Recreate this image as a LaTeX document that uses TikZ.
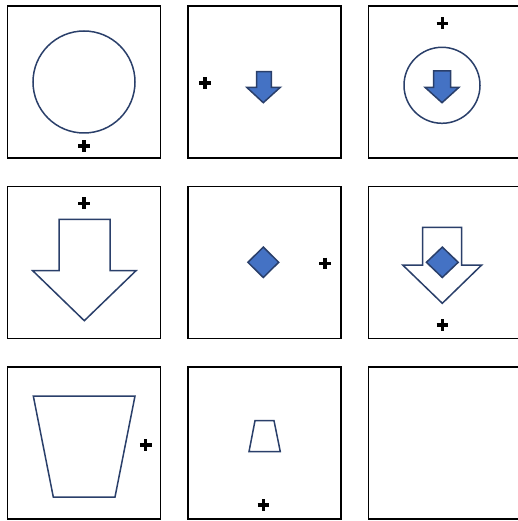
\documentclass[tikz,border=0pt]{standalone}
\usetikzlibrary{shapes.geometric}
\definecolor{shapeblue}{HTML}{4472C4}
\definecolor{shapeline}{HTML}{2A3F6A}
\tikzset{panel/.style = {draw = black, line width = 1.7pt}}
\tikzset{outline/.style = {draw = shapeline, line width = 1.5pt, line join = miter}}
\tikzset{solidshape/.style = {outline, fill = shapeblue}}
\tikzset{ring/.style = {shape = circle, outline, inner sep = 0pt}}
\tikzset{gem/.style = {shape = diamond, solidshape, inner sep = 0pt}}
\tikzset{plusmark/.pic = {\draw[line width = 3.3pt] (-5.8,0) -- (5.8,0) (0,-5.8) -- (0,5.8);}}

\begin{document}
\begin{tikzpicture}[x = 1pt, y = -1pt]
	\useasboundingbox (0,0) rectangle (517,521);
	\fill[white] (0,0) rectangle (517,521);

	% panels
	\foreach \px in {7.5, 188, 368.5}
		\foreach \py in {6, 186.5, 367}
			\draw[panel] (\px,\py) rectangle ++(153,152);

	% row 1
	\node[ring, minimum size = 102pt] (c1) at (84,82) {};
	\pic at (84,146) {plusmark};

	\draw[solidshape] (256.7,71.7) -- (271.3,71.7) -- (271.3,87.3) -- (280.3,87.3)
		-- (263.3,102.7) -- (246.7,87.3) -- (256.7,87.3) -- cycle;
	\pic at (205,83) {plusmark};

	\node[ring, minimum size = 76pt] (c3) at (442,85.3) {};
	\draw[solidshape] (433.5,71) -- (450.5,71) -- (450.5,87.3) -- (459,87.3)
		-- (442,102.7) -- (425,87.3) -- (433.5,87.3) -- cycle;
	\pic at (442.3,23.3) {plusmark};

	% row 2
	\draw[outline] (59,219.3) -- (110,219.3) -- (110,270.7) -- (136,270.7)
		-- (84.3,320.7) -- (32.7,270.7) -- (59,270.7) -- cycle;
	\pic at (84,203.3) {plusmark};

	\node[gem, minimum width = 31.4pt, minimum height = 31pt] (d5) at (263.3,262.3) {};
	\pic at (325,263.3) {plusmark};

	\draw[outline] (422.7,227.3) -- (461.7,227.3) -- (461.7,265) -- (481.7,265)
		-- (442.3,303.3) -- (402.7,265) -- (422.7,265) -- cycle;
	\node[gem, minimum width = 32.4pt, minimum height = 31pt] (d6) at (442.3,262.3) {};
	\pic at (442.3,325) {plusmark};

	% row 3
	\draw[outline] (33.3,396) -- (135,396) -- (115,497) -- (53.3,497) -- cycle;
	\pic at (145.7,445) {plusmark};

	\draw[outline] (255,420.7) -- (274,420.7) -- (280.3,451.7) -- (249,451.7) -- cycle;
	\pic at (263.3,505) {plusmark};
\end{tikzpicture}
\end{document}
